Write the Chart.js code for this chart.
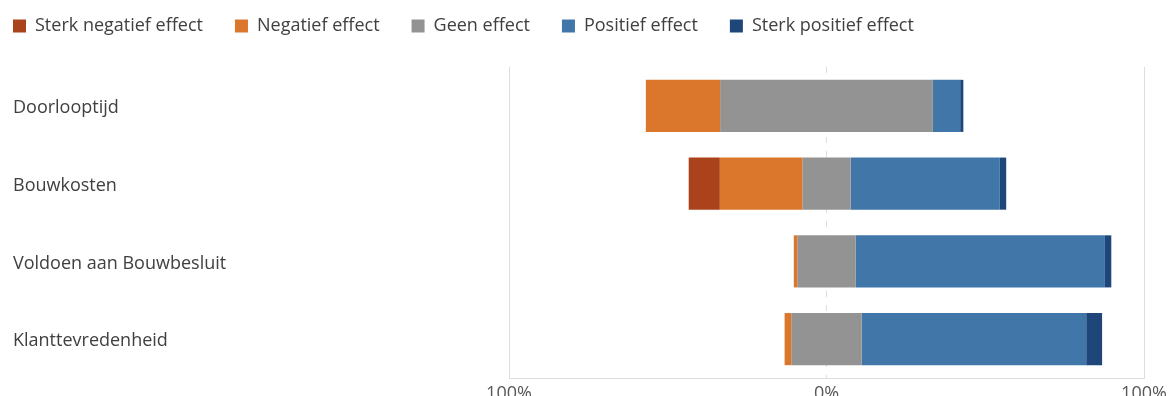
<!DOCTYPE html>
<html>
<head>
    <meta charset="UTF-8">
    <title>Effecten</title>
    <script src="https://cdn.jsdelivr.net/npm/chart.js@4/dist/chart.umd.min.js"></script>
    <style>
        body { margin: 0; background: #fff; }
        #wrap { width: 1173px; height: 396px; }
    </style>
</head>
<body>
    <div id="wrap"><canvas id="myChart"></canvas></div>

    <script>
        const categories = ['Doorlooptijd', 'Bouwkosten', 'Voldoen aan Bouwbesluit', 'Klanttevredenheid'];
        const sterkNegatief = [0, 9.8, 0, 0];
        const negatief = [23.4, 26.0, 1.1, 2.1];
        const geen = [67.0, 15.2, 18.4, 22.2];
        const positief = [8.6, 47.0, 78.5, 70.7];
        const sterkPositief = [1.0, 2.0, 2.0, 5.0];
        const xTicks = [-100, 0, 100];

        // diverging: "geen effect" is split around 0
        function ranges(i) {
            const half = geen[i] / 2;
            return {
                sn: [-(half + negatief[i] + sterkNegatief[i]), -(half + negatief[i])],
                n: [-(half + negatief[i]), -half],
                g: [-half, half],
                p: [half, half + positief[i]],
                sp: [half + positief[i], half + positief[i] + sterkPositief[i]]
            };
        }
        const r = categories.map((c, i) => ranges(i));

        function ds(label, key, color) {
            return {
                label: label,
                data: r.map(x => x[key]),
                backgroundColor: color,
                borderWidth: 0,
                grouped: false,
                barPercentage: 0.67,
                categoryPercentage: 1
            };
        }

        // move legend to the top-left corner (Chart.js adds its padding on the left)
        const legendShift = {
            id: 'legendShift',
            afterLayout(chart) {
                chart.legend.left -= 32;
                chart.legend.top -= 22;
            }
        };

        const font = "'Open Sans', 'Noto Sans', sans-serif";

        const ctx = document.getElementById('myChart').getContext('2d');
        new Chart(ctx, {
            type: 'bar',
            data: {
                labels: categories,
                datasets: [
                    ds('Sterk negatief effect', 'sn', '#AA421B'),
                    ds('Negatief effect', 'n', '#DA772D'),
                    ds('Geen effect', 'g', '#939393'),
                    ds('Positief effect', 'p', '#4176A9'),
                    ds('Sterk positief effect', 'sp', '#1F4679')
                ]
            },
            plugins: [legendShift],
            options: {
                indexAxis: 'y',
                responsive: true,
                maintainAspectRatio: false,
                animation: false,
                layout: { padding: { left: 13, right: 29, top: 7, bottom: 0 } },
                plugins: {
                    legend: {
                        position: 'top',
                        align: 'start',
                        labels: {
                            boxWidth: 13,
                            boxHeight: 13,
                            padding: 32,
                            color: '#404040',
                            font: { family: font, size: 18 }
                        }
                    },
                    tooltip: { enabled: false }
                },
                scales: {
                    x: {
                        min: -100,
                        max: 100,
                        afterBuildTicks: scale => { scale.ticks = xTicks.map(v => ({ value: v })); },
                        afterFit: scale => { scale.height = 18; },
                        ticks: {
                            color: '#595959',
                            font: { family: font, size: 18 },
                            padding: 5,
                            callback: v => Math.abs(v) + '%'
                        },
                        grid: {
                            color: '#dedede',
                            lineWidth: 1,
                            drawTicks: false
                        },
                        border: {
                            display: true,
                            color: '#dedede',
                            dash: c => (c.tick && c.tick.value === 0) ? [6, 8] : []
                        }
                    },
                    y: {
                        afterFit: scale => { scale.width = 496; },
                        ticks: {
                            crossAlign: 'far',
                            labelOffset: 2,
                            color: '#404040',
                            font: { family: font, size: 18 }
                        },
                        grid: { display: false },
                        border: { display: false }
                    }
                }
            }
        });
    </script>
</body>
</html>
